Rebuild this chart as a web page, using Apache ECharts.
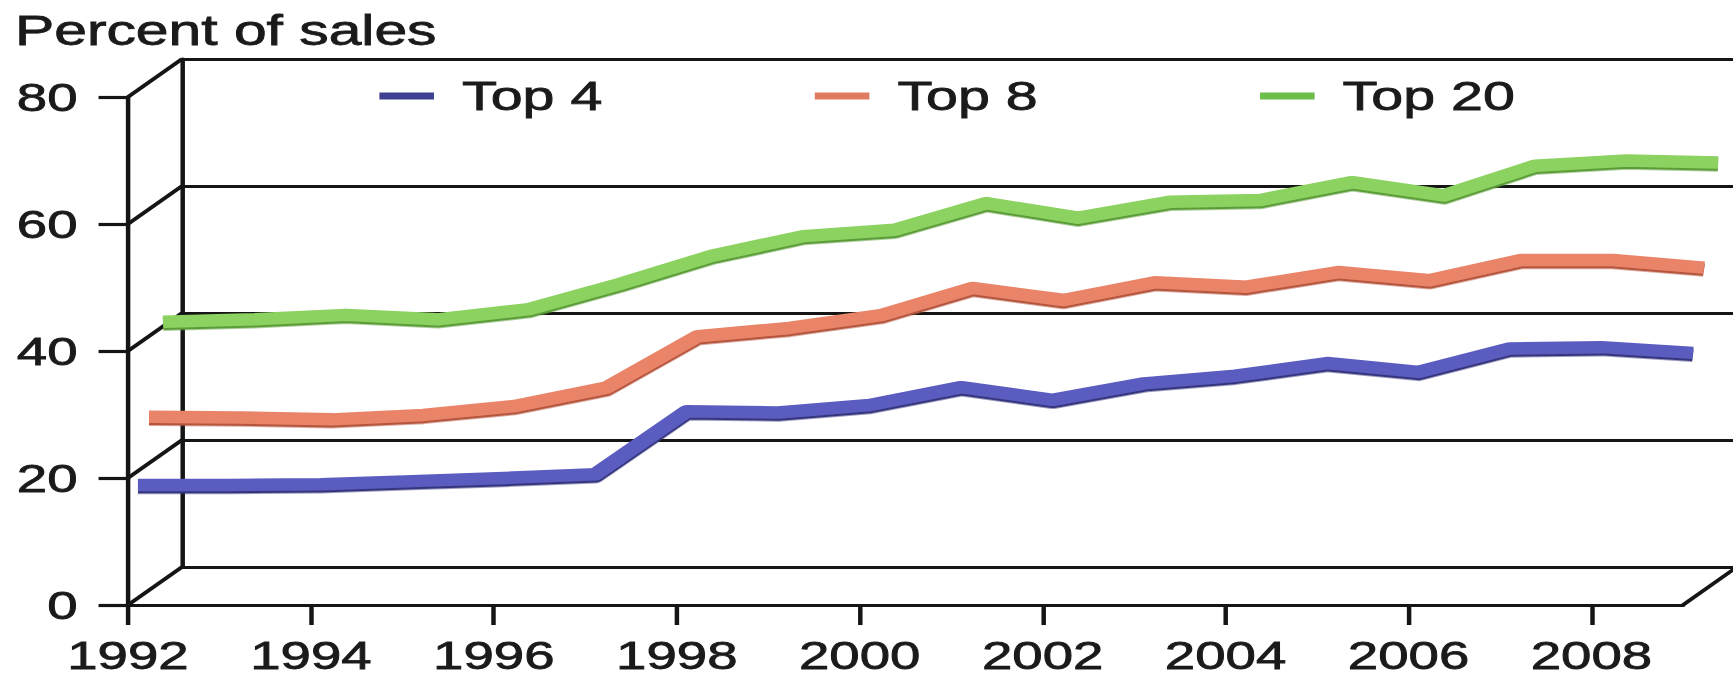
<!DOCTYPE html>
<html>
<head>
<meta charset="utf-8">
<script src="https://cdn.jsdelivr.net/npm/echarts@6/dist/echarts.min.js"></script>
<style>
  html, body { margin: 0; padding: 0; background: #fff; overflow: hidden; }
  /* the chart is laid out narrow and widened, so glyphs and frame get the wide look */
  #chart { width: 1238px; height: 676px; transform: scaleX(1.4); transform-origin: 0 0; }
</style>
</head>
<body>
<div id="chart"></div>
<script>
// Categories: one point per year
const years = ['1992','1993','1994','1995','1996','1997','1998','1999','2000',
               '2001','2002','2003','2004','2005','2006','2007','2008','2009'];

// Share of sales held by the largest firms (percent)
const top4  = [17.8, 17.8, 17.9, 18.4, 18.9, 19.5, 29.4, 29.2, 30.4, 33.2, 31.2, 33.8, 35.0, 37.0, 35.6, 39.3, 39.5, 38.6];
const top8  = [27.3, 27.2, 26.9, 27.6, 29.0, 31.9, 40.0, 41.3, 43.3, 47.6, 45.7, 48.5, 47.8, 50.1, 48.8, 52.0, 52.0, 50.8];
const top20 = [40.7, 41.1, 41.8, 41.1, 42.7, 46.7, 51.1, 54.2, 55.2, 59.4, 57.1, 59.6, 59.9, 62.7, 60.6, 65.3, 66.1, 65.8];

const seriesNames = ['Top 4', 'Top 8', 'Top 20'];
const yTicks = [0, 20, 40, 60, 80];

// ---- layout of the pseudo-3D box ----
const FONT = "'Liberation Sans', Arial, sans-serif";
const INK = '#151515';
const TEXT = '#1a1a1a';
const FRAME_W = 3.2;
const FRONT = { left: 91.4, top: 97, width: 1110.7, height: 508 };
const DEPTH = { dx: 38.6, dy: -38 };            // vector from front plane to back wall
const rowDepth = [0.185, 0.39, 0.65];           // depth row of each ribbon
const ribbon = [
  { color: '#5a5cc0', shade: '#34367e', legend: '#3e4090' },
  { color: '#e98468', shade: '#b5543c', legend: '#e07a60' },
  { color: '#8bd260', shade: '#5c9c38', legend: '#6cbd4b' }
];
const seriesData = [top4, top8, top20];

// slightly heavier glyphs for all labels
const textWeight = { textBorderColor: TEXT, textBorderWidth: 0.8 };

function gridAt(f) {
  return {
    left: FRONT.left + DEPTH.dx * f,
    top: FRONT.top + DEPTH.dy * f,
    width: FRONT.width,
    height: FRONT.height
  };
}

const grids = [gridAt(0), gridAt(1)].concat(rowDepth.map(gridAt));

const hiddenX = (i) => ({
  type: 'category', gridIndex: i, data: years, boundaryGap: false, show: false
});
const hiddenY = (i) => ({
  type: 'value', gridIndex: i, min: 0, max: 80, interval: 20, show: false
});

const xAxes = [
  {
    type: 'category', gridIndex: 0, data: years, boundaryGap: false,
    axisLine: { show: true, lineStyle: { color: INK, width: FRAME_W } },
    axisTick: { show: true, interval: 1, length: 20, lineStyle: { color: INK, width: FRAME_W } },
    axisLabel: Object.assign({ interval: 1, margin: 31, fontSize: 39, color: TEXT, fontFamily: FONT }, textWeight),
    splitLine: { show: false }
  },
  hiddenX(1)
].concat(rowDepth.map((_, k) => hiddenX(k + 2)));

const yAxes = [
  {
    type: 'value', gridIndex: 0, min: 0, max: 80, interval: 20,
    axisLine: { show: true, lineStyle: { color: INK, width: FRAME_W } },
    axisTick: { show: true, length: 21, lineStyle: { color: INK, width: FRAME_W } },
    axisLabel: Object.assign({ margin: 36, fontSize: 39, color: TEXT, fontFamily: FONT }, textWeight),
    splitLine: { show: false }
  },
  {
    // back wall: left edge and horizontal gridlines
    type: 'value', gridIndex: 1, min: 0, max: 80, interval: 20,
    axisLine: { show: true, lineStyle: { color: INK, width: FRAME_W } },
    axisTick: { show: false },
    axisLabel: { show: false },
    splitLine: { show: true, lineStyle: { color: INK, width: FRAME_W } }
  }
].concat(rowDepth.map((_, k) => hiddenY(k + 2)));

// Receding edges: side-wall gridlines at each y tick, plus the floor's right edge
const edgeData = yTicks.map(v => [0, v]).concat([[years.length - 1, 0]]);

const series = [
  {
    type: 'custom',
    xAxisIndex: 0, yAxisIndex: 0,
    data: edgeData,
    silent: true,
    z: 3,
    renderItem: function (params, api) {
      const p = api.coord([api.value(0), api.value(1)]);
      return {
        type: 'line',
        shape: { x1: p[0], y1: p[1], x2: p[0] + DEPTH.dx, y2: p[1] + DEPTH.dy },
        style: { stroke: INK, lineWidth: FRAME_W }
      };
    }
  }
];

// ribbons, back row first so nearer ones sit on top
for (let k = seriesNames.length - 1; k >= 0; k--) {
  series.push({
    name: seriesNames[k],
    type: 'line',
    xAxisIndex: k + 2, yAxisIndex: k + 2,
    data: seriesData[k],
    showSymbol: false,
    silent: true,
    z: 5 + (2 - k),
    color: ribbon[k].color,
    lineStyle: {
      width: 12.5,
      color: ribbon[k].color,
      cap: 'butt',
      join: 'round',
      shadowColor: ribbon[k].shade,
      shadowOffsetY: 2.5,
      shadowBlur: 0
    }
  });
}

const legendLeft = [271, 582, 900];
const legends = seriesNames.map((name, k) => ({
  data: [{ name: name, icon: 'rect', itemStyle: { color: ribbon[k].legend, shadowBlur: 0, shadowOffsetY: 0 } }],
  left: legendLeft[k],
  top: 73,
  padding: 0,
  itemWidth: 39,
  itemHeight: 7,
  selectedMode: false,
  textStyle: Object.assign({ fontSize: 41, color: TEXT, fontFamily: FONT, lineHeight: 46, padding: [0, 0, 0, 15] }, textWeight)
}));

const chart = echarts.init(document.getElementById('chart'), null, {
  renderer: 'svg', width: 1238, height: 676
});

chart.setOption({
  animation: false,
  backgroundColor: '#ffffff',
  title: {
    text: 'Percent of sales',
    left: 10.7, top: 10, padding: 0,
    textStyle: Object.assign({ fontSize: 42, fontWeight: 'normal', color: TEXT, fontFamily: FONT }, textWeight)
  },
  legend: legends,
  grid: grids,
  xAxis: xAxes,
  yAxis: yAxes,
  series: series
});
</script>
</body>
</html>
